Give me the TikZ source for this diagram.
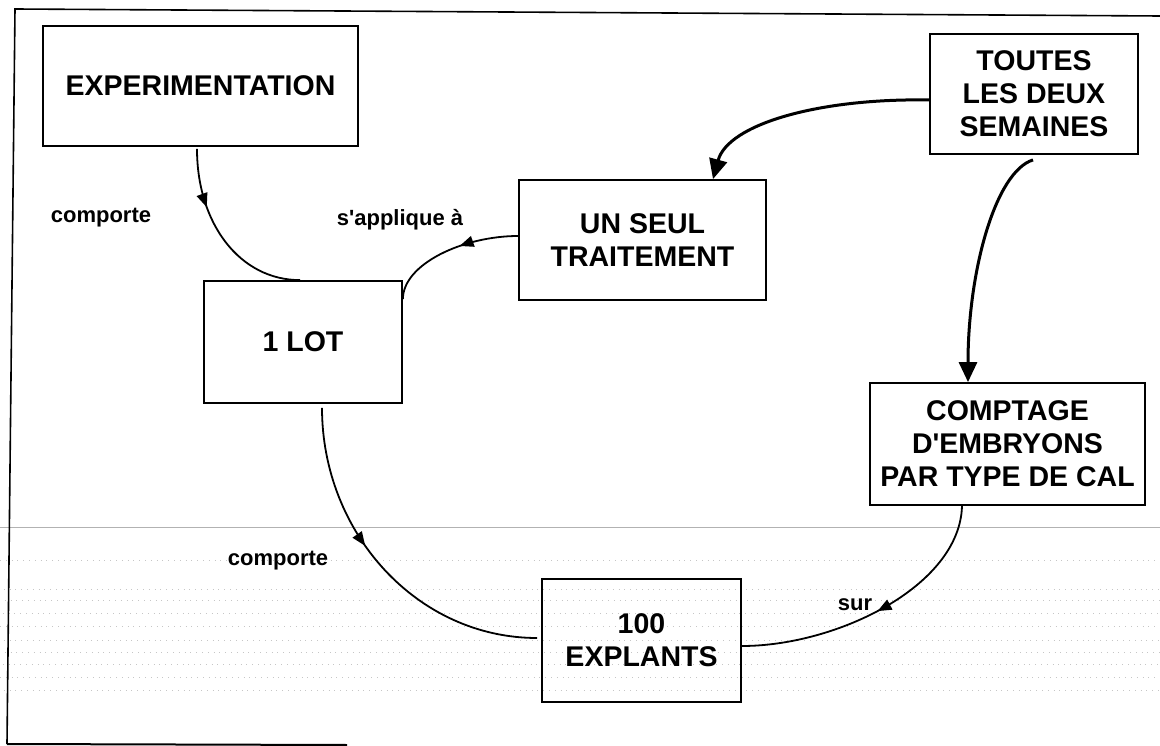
\documentclass[tikz,border=0pt]{standalone}
\usepackage{fontspec}
\setmainfont{Liberation Sans}
\usetikzlibrary{arrows.meta,decorations.markings}
\begin{document}
\begin{tikzpicture}[x=1pt,y=-1pt,
  box/.style={draw, line width=1.8pt, inner sep=0pt, align=center,
    font=\fontsize{28.5}{33}\selectfont\bfseries},
  lbl/.style={inner sep=0pt, font=\fontsize{22}{26}\selectfont\bfseries},
  thinlink/.style={line width=1.8pt, postaction={decorate},
    decoration={markings, mark=at position #1 with {\arrow{Triangle[length=14pt,width=11pt]}}}},
  thicklink/.style={line width=3pt, -{Triangle[length=20pt,width=18pt]}},
  grain/.style={gray!45, line width=0.7pt, dash pattern=on 0.8pt off 5pt},
]
\useasboundingbox (0,0) rectangle (1160,746);

% paper grain in the lower band
\draw[gray!60, line width=0.8pt] (0,527) -- (1160,527);
\foreach \yy/\ph in {560/0,589/2,600/1,613/3,626/0,640/2,652/1,664/3,677/0,690/2}
  \draw[grain, dash phase=\ph pt] (0,\yy) -- (1160,\yy);

% frame
\draw[line width=1.6pt] (1160,16) -- (15,9) -- (7,744);
\draw[line width=2pt] (7,744) -- (347,745);

% concepts
\node[box, minimum width=315pt, minimum height=120pt] (exp) at (200.5,86) {EXPERIMENTATION};
\node[box, minimum width=208pt, minimum height=120pt] (toutes) at (1034,94) {TOUTES\\LES DEUX\\SEMAINES};
\node[box, minimum width=247pt, minimum height=120pt] (seul) at (642.5,240) {UN SEUL\\TRAITEMENT};
\node[box, minimum width=198pt, minimum height=122pt] (lot) at (303,342) {1 LOT};
\node[box, minimum width=275pt, minimum height=122pt] (compt) at (1007.5,444) {COMPTAGE\\D\textquotesingle EMBRYONS\\PAR TYPE DE CAL};
\node[box, minimum width=199pt, minimum height=123pt] (expl) at (641.5,640.5) {100\\EXPLANTS};

% link words
\node[lbl] (w1) at (101,218) {comporte};
\node[lbl] (w2) at (400,220) {s\textquotesingle applique à};
\node[lbl] (w3) at (278,561) {comporte};
\node[lbl] (w4) at (855,605) {sur};

% links
\draw[thinlink=0.32] ([xshift=-3.5pt,yshift=-2pt]exp.south) .. controls +(0,75) and +(-60,0) .. ([xshift=-3pt]lot.north);
\draw[thinlink=0.42] ([yshift=4pt]seul.west) .. controls +(-55,0) and +(0,-35) .. ([yshift=-19pt]lot.north east);
\draw[thinlink=0.42] ([xshift=19pt,yshift=-4pt]lot.south) .. controls +(0,125) and +(-120,0) .. ([xshift=-4pt,yshift=2.5pt]expl.west);
\draw[thinlink=0.5] ([xshift=-45.5pt]compt.south) .. controls +(-2,80) and +(95,0) .. ([yshift=-5.5pt]expl.east);
\draw[thicklink] ([yshift=-6pt]toutes.west) .. controls +(-110,-2) and +(15,-55) .. ([xshift=70.5pt]seul.north);
\draw[thicklink] ([xshift=-1pt,yshift=-5pt]toutes.south) .. controls +(-38,12) and +(0,-110) .. ([xshift=-39.5pt]compt.north);
\end{tikzpicture}
\end{document}
